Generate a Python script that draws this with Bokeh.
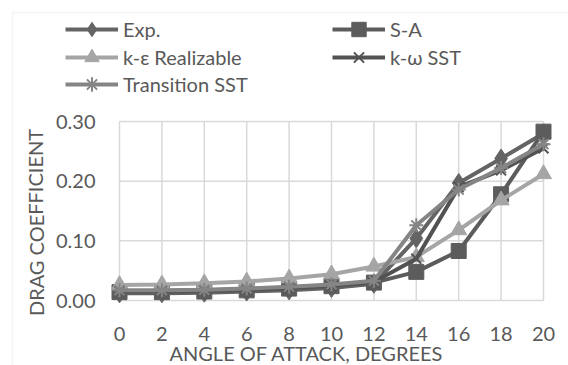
from bokeh.plotting import figure
from bokeh.models import Range1d, Legend, LegendItem, Label, BoxAnnotation
from bokeh.core.properties import value
from bokeh.embed import file_html
from bokeh.resources import INLINE

# ---- data ----
angles = [0, 2, 4, 6, 8, 10, 12, 14, 16, 18, 20]
exp_cd = [0.012, 0.012, 0.013, 0.015, 0.017, 0.021, 0.028, 0.104, 0.197, 0.238, 0.280]
sa_cd = [0.014, 0.014, 0.015, 0.017, 0.020, 0.024, 0.030, 0.048, 0.083, 0.178, 0.283]
ke_cd = [0.026, 0.027, 0.029, 0.032, 0.037, 0.044, 0.057, 0.073, 0.118, 0.168, 0.212]
kw_cd = [0.016, 0.016, 0.017, 0.019, 0.021, 0.025, 0.031, 0.070, 0.190, 0.218, 0.255]
tr_cd = [0.017, 0.017, 0.018, 0.020, 0.023, 0.027, 0.033, 0.126, 0.186, 0.222, 0.262]
series_names = ["Exp.", "S-A", "k-\u03b5 Realizable", "k-\u03c9 SST", "Transition SST"]
x_ticks = [0, 2, 4, 6, 8, 10, 12, 14, 16, 18, 20]
x_tick_labels = ["0", "2", "4", "6", "8", "10", "12", "14", "16", "18", "20"]
y_ticks = [0.0, 0.1, 0.2, 0.3]
y_tick_labels = ["0.00", "0.10", "0.20", "0.30"]
x_title = "ANGLE OF ATTACK, DEGREES"
y_title = "DRAG COEFFICIENT"

# ---- layout (the frame covers the whole canvas) ----
W, H = 568, 365
inner_left, inner_w = 119, 424
inner_top, inner_h = 121, 179
xmin, xmax = x_ticks[0], x_ticks[-1]
ymin, ymax = y_ticks[0], y_ticks[-1]
px_x = (xmax - xmin) / inner_w
px_y = (ymax - ymin) / inner_h
inner_bottom = inner_top + inner_h

FONT = "Lato"
TXT = "#595959"
GRID = "#d9d9d9"
FS = "20px"

p = figure(width=W, height=H, output_backend="svg", toolbar_location=None,
           x_range=Range1d(xmin - inner_left * px_x, xmin + (W - inner_left) * px_x),
           y_range=Range1d(ymin - (H - inner_bottom) * px_y, ymin + inner_bottom * px_y),
           min_border=0, frame_width=W, frame_height=H)
p.outline_line_color = None
p.background_fill_color = "white"
p.border_fill_color = "white"
p.axis.visible = False
p.xgrid.visible = False
p.ygrid.visible = False

# outer chart frame
p.add_layout(BoxAnnotation(left=12, right=W + 50, top=H - 12, bottom=-50,
                           left_units="screen", right_units="screen",
                           top_units="screen", bottom_units="screen",
                           fill_alpha=0, line_color=GRID, line_width=1.5, level="underlay"))

# grid lines from ticks
p.segment(x0=x_ticks, y0=[ymin] * len(x_ticks), x1=x_ticks, y1=[ymax] * len(x_ticks),
          line_color=GRID, line_width=1.5)
p.segment(x0=[xmin] * len(y_ticks), y0=y_ticks, x1=[xmax] * len(y_ticks), y1=y_ticks,
          line_color=GRID, line_width=1.5)

# tick labels
p.text(x=x_ticks, y=[ymin] * len(x_ticks), text=x_tick_labels, y_offset=33,
       text_font=value(FONT), text_font_size=FS, text_color=TXT,
       text_align="center", text_baseline="middle")
p.text(x=[xmin] * len(y_ticks), y=y_ticks, text=y_tick_labels, x_offset=-24,
       text_font=value(FONT), text_font_size=FS, text_color=TXT,
       text_align="right", text_baseline="middle")

LW = 4
r_exp_l = p.line(angles, exp_cd, line_color="#646464", line_width=LW)
r_exp_m = p.scatter(angles, exp_cd, marker="diamond", size=19, fill_color="#646464", line_color="#646464")
r_sa_l = p.line(angles, sa_cd, line_color="#5c5c5c", line_width=LW)
r_sa_m = p.scatter(angles, sa_cd, marker="square", size=15, fill_color="#5c5c5c", line_color="#5c5c5c")
r_ke_l = p.line(angles, ke_cd, line_color="#a5a5a5", line_width=LW)
r_ke_m = p.scatter(angles, ke_cd, marker="triangle", size=16, fill_color="#a5a5a5", line_color="#a5a5a5")
r_kw_l = p.line(angles, kw_cd, line_color="#525252", line_width=LW)
r_kw_m = p.scatter(angles, kw_cd, marker="x", size=14, line_color="#525252", line_width=2)
r_tr_l = p.line(angles, tr_cd, line_color="#858585", line_width=LW)
r_tr_m = p.scatter(angles, tr_cd, marker="asterisk", size=14, line_color="#858585", line_width=2)

GH = 36

# one legend per entry, so each row sits exactly where the reference has it
legend_rows = [
    (series_names[0], [r_exp_l, r_exp_m], 65, 29),
    (series_names[1], [r_sa_l, r_sa_m], 332, 29),
    (series_names[2], [r_ke_l, r_ke_m], 65, 57),
    (series_names[3], [r_kw_l, r_kw_m], 332, 57),
    (series_names[4], [r_tr_l, r_tr_m], 65, 84),
]
for name, rends, lx, ly in legend_rows:
    p.add_layout(Legend(items=[LegendItem(label=name, renderers=rends)],
                        location=(lx, H - (ly + GH // 2)), orientation="vertical",
                        glyph_width=53, glyph_height=GH, label_height=GH, spacing=0,
                        padding=0, margin=0, label_standoff=5,
                        label_text_font=FONT, label_text_font_size=FS, label_text_color=TXT,
                        label_text_baseline="middle",
                        border_line_color=None, background_fill_alpha=0), "center")

# axis titles
p.add_layout(Label(x=306, y=H - 352, x_units="screen", y_units="screen",
                   text=x_title, text_font=FONT, text_font_size=FS, text_color=TXT,
                   text_align="center", text_baseline="middle"))
p.add_layout(Label(x=35, y=H - 222, x_units="screen", y_units="screen",
                   text=y_title, text_font=FONT, text_font_size=FS, text_color=TXT,
                   text_align="center", text_baseline="middle", angle=1.5708))

open("out.html", "w").write(file_html(p, INLINE))
